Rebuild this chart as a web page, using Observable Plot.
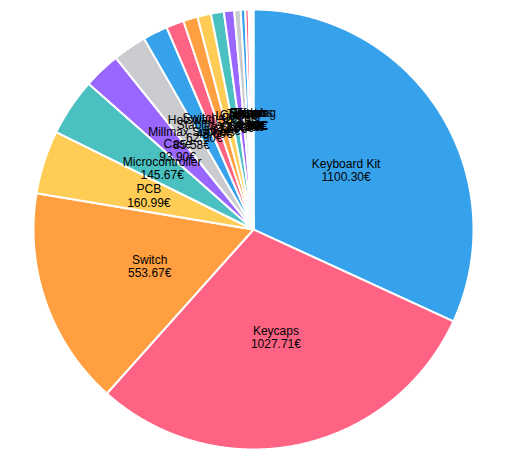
<!DOCTYPE html>
<html>
<head>
<meta charset="utf-8">
<script src="https://cdn.jsdelivr.net/npm/d3@7"></script>
<script src="https://cdn.jsdelivr.net/npm/@observablehq/plot@0.6"></script>
<style>
  html, body { margin: 0; padding: 0; background: #fff; }
  #chart { width: 522px; height: 463px; }
</style>
</head>
<body>
<div id="chart"></div>
<script>
const categories = [
  "Keyboard Kit", "Keycaps", "Switch", "PCB", "Microcontroller", "Case",
  "Millmax Sockets", "Stabilizers", "Hotswap Sockets", "Switch Opener", "Lube",
  "Cable", "Tools", "Feet", "Screws", "Foam", "Stickers", "Shipping", "Knob"
];
const amounts = [
  1100.30, 1027.71, 553.67, 160.99, 145.67, 93.90,
  85.58, 62.90, 45.00, 36.50, 34.60,
  32.70, 25.99, 16.30, 11.50, 8.60, 4.99, 4.50, 2.50
];
const palette = ["#36A2EB", "#FF6384", "#FF9F40", "#FFCD56", "#4BC0C0", "#9966FF", "#C9CBCF"];

const arcs = d3.pie().sort(null).value(d => d)(amounts);

// slice polygons built from pie angles (unit radius)
const slicePts = [];
arcs.forEach((a, i) => {
  const n = Math.max(2, Math.ceil((a.endAngle - a.startAngle) / 0.005));
  slicePts.push({i, x: 0, y: 0});
  for (let k = 0; k <= n; k++) {
    const t = a.startAngle + (a.endAngle - a.startAngle) * k / n;
    slicePts.push({i, x: Math.sin(t), y: Math.cos(t)});
  }
});

const labels = arcs.map((a, i) => {
  const m = (a.startAngle + a.endAngle) / 2;
  return {
    x: 0.5 * Math.sin(m),
    y: 0.5 * Math.cos(m),
    text: categories[i] + "\n" + amounts[i].toFixed(2) + "€"
  };
});

const R = 220, cx = 253, cy = 229, W = 522, H = 463;

const chart = Plot.plot({
  width: W,
  height: H,
  margin: 0,
  x: {domain: [-cx / R, (W - cx) / R], axis: null},
  y: {domain: [-(H - cy) / R, cy / R], axis: null},
  color: {type: "identity"},
  marks: [
    Plot.line(slicePts, {
      x: "x", y: "y", z: "i",
      fill: d => palette[d.i % palette.length],
      stroke: "#fff", strokeWidth: 2,
      curve: "linear-closed"
    }),
    Plot.text(labels, {
      x: "x", y: "y", text: "text",
      fill: "#000",
      fontSize: 12,
      lineHeight: 1.1,
      fontFamily: "Liberation Sans, Arial, Helvetica, sans-serif"
    })
  ]
});
document.getElementById("chart").appendChild(chart);
</script>
</body>
</html>
